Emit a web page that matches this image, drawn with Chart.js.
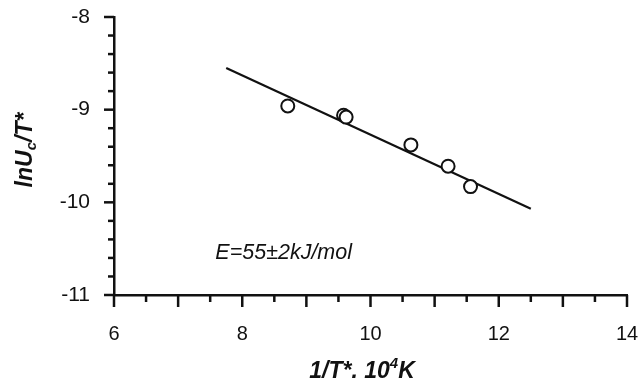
<!DOCTYPE html>
<html lang="en">

<head>
    <meta charset="UTF-8">
    <title>lnUc/T* vs 1/T*</title>
    <script src="https://cdn.jsdelivr.net/npm/chart.js"></script>
    <style>
        html, body {
            margin: 0;
            padding: 0;
            background: #fff;
        }

        #wrap {
            width: 639px;
            height: 389px;
        }
    </style>
</head>

<body>
    <div id="wrap">
        <canvas id="chart"></canvas>
    </div>

    <script>
        // measured points (1/T*·10^4 K, ln Uc/T*)
        const xValues = [8.71, 9.58, 9.62, 10.63, 11.21, 11.56];
        const yValues = [-8.96, -9.06, -9.08, -9.38, -9.61, -9.83];

        // fitted line end points
        const fitX = [7.75, 12.5];
        const fitY = [-8.55, -10.07];

        const xTicks = [6, 8, 10, 12, 14];
        const yTicks = [-11, -10, -9, -8];
        const note = 'E=55\u00b12kJ/mol';
        const noteAt = [7.58, -10.55];

        const FONT = '"Liberation Sans", Arial, sans-serif';
        const INK = '#111';

        const isMajor = v => Math.abs(v - Math.round(v)) < 1e-6;

        // tick marks: long on whole numbers, short on the rest
        const tickMarks = {
            id: 'tickMarks',
            afterDraw(chart) {
                const ctx = chart.ctx;
                const xs = chart.scales.x, ys = chart.scales.y;
                const area = chart.chartArea;
                ctx.save();
                ctx.strokeStyle = INK;
                ctx.lineWidth = 2.5;
                xs.ticks.forEach(t => {
                    const px = xs.getPixelForValue(t.value);
                    const len = isMajor(t.value) ? 12 : 7;
                    ctx.beginPath();
                    ctx.moveTo(px, area.bottom);
                    ctx.lineTo(px, area.bottom + len);
                    ctx.stroke();
                });
                ys.ticks.forEach(t => {
                    const py = ys.getPixelForValue(t.value);
                    const len = isMajor(t.value) ? 10 : 6;
                    ctx.beginPath();
                    ctx.moveTo(area.left, py);
                    ctx.lineTo(area.left - len, py);
                    ctx.stroke();
                });
                ctx.restore();
            }
        };

        // axis titles with sub/superscripts and the energy note
        const labels = {
            id: 'labels',
            afterDraw(chart) {
                const ctx = chart.ctx;
                const xs = chart.scales.x, ys = chart.scales.y;
                ctx.save();
                ctx.fillStyle = INK;
                ctx.textBaseline = 'alphabetic';

                // x title: 1/T*. 10^4K
                const big = 'italic bold 23px ' + FONT;
                const small = 'italic bold 15px ' + FONT;
                ctx.font = big;
                const a = '1/T*. 10';
                const wa = ctx.measureText(a).width;
                ctx.font = small;
                const wb = ctx.measureText('4').width;
                ctx.font = big;
                const wc = ctx.measureText('K').width;
                let x0 = 362 - (wa + wb + wc) / 2;
                const by = 378;
                ctx.fillText(a, x0, by);
                ctx.font = small;
                ctx.fillText('4', x0 + wa, by - 10);
                ctx.font = big;
                ctx.fillText('K', x0 + wa + wb, by);

                // y title: lnUc/T*, rotated
                ctx.translate(32, 150);
                ctx.rotate(-Math.PI / 2);
                ctx.font = big;
                const p1 = 'lnU', p3 = '/T*';
                const w1 = ctx.measureText(p1).width;
                ctx.font = small;
                const w2 = ctx.measureText('c').width;
                ctx.font = big;
                const w3 = ctx.measureText(p3).width;
                let y0 = -(w1 + w2 + w3) / 2;
                ctx.fillText(p1, y0, 0);
                ctx.font = small;
                ctx.fillText('c', y0 + w1, 4);
                ctx.font = big;
                ctx.fillText(p3, y0 + w1 + w2, 0);
                ctx.restore();

                ctx.save();
                ctx.fillStyle = INK;
                ctx.font = 'italic 21.5px ' + FONT;
                ctx.textBaseline = 'middle';
                ctx.fillText(note, xs.getPixelForValue(noteAt[0]), ys.getPixelForValue(noteAt[1]));
                ctx.restore();
            }
        };

        new Chart(document.getElementById('chart'), {
            type: 'scatter',
            data: {
                datasets: [{
                        label: 'fit',
                        data: fitX.map((x, i) => ({ x, y: fitY[i] })),
                        showLine: true,
                        borderColor: INK,
                        borderWidth: 2.2,
                        pointRadius: 0,
                        order: 2
                    },
                    {
                        label: 'data',
                        data: xValues.map((x, i) => ({ x, y: yValues[i] })),
                        pointRadius: 6.5,
                        pointBorderWidth: 2,
                        borderColor: INK,
                        backgroundColor: '#fff',
                        order: 1
                    }
                ]
            },
            options: {
                responsive: true,
                maintainAspectRatio: false,
                animation: false,
                layout: {
                    padding: { top: 17, right: 12, left: 0, bottom: 0 }
                },
                plugins: {
                    legend: { display: false },
                    tooltip: { enabled: false }
                },
                scales: {
                    x: {
                        type: 'linear',
                        min: xTicks[0],
                        max: xTicks[xTicks.length - 1],
                        afterFit: s => {
                            s.height = 94;
                            s.paddingLeft = 0;
                            s.paddingRight = 0;
                        },
                        border: { color: INK, width: 2.5 },
                        grid: { drawOnChartArea: false, tickLength: 10, tickColor: 'rgba(0,0,0,0)' },
                        ticks: {
                            stepSize: 0.5,
                            autoSkip: false,
                            maxRotation: 0,
                            padding: 17,
                            color: INK,
                            font: { family: FONT, size: 20 },
                            callback: v => isMajor(v) && xTicks.includes(Math.round(v)) ? String(Math.round(v)) : ''
                        }
                    },
                    y: {
                        type: 'linear',
                        min: yTicks[0],
                        max: yTicks[yTicks.length - 1],
                        afterFit: s => {
                            s.width = 114;
                            s.paddingTop = 0;
                            s.paddingBottom = 0;
                        },
                        border: { color: INK, width: 2.5 },
                        grid: { drawOnChartArea: false, tickLength: 10, tickColor: 'rgba(0,0,0,0)' },
                        ticks: {
                            stepSize: 0.2,
                            autoSkip: false,
                            padding: 14,
                            color: INK,
                            font: { family: FONT, size: 21 },
                            callback: v => isMajor(v) && yTicks.includes(Math.round(v)) ? String(Math.round(v)) : ''
                        }
                    }
                }
            },
            plugins: [tickMarks, labels]
        });
    </script>
</body>

</html>
